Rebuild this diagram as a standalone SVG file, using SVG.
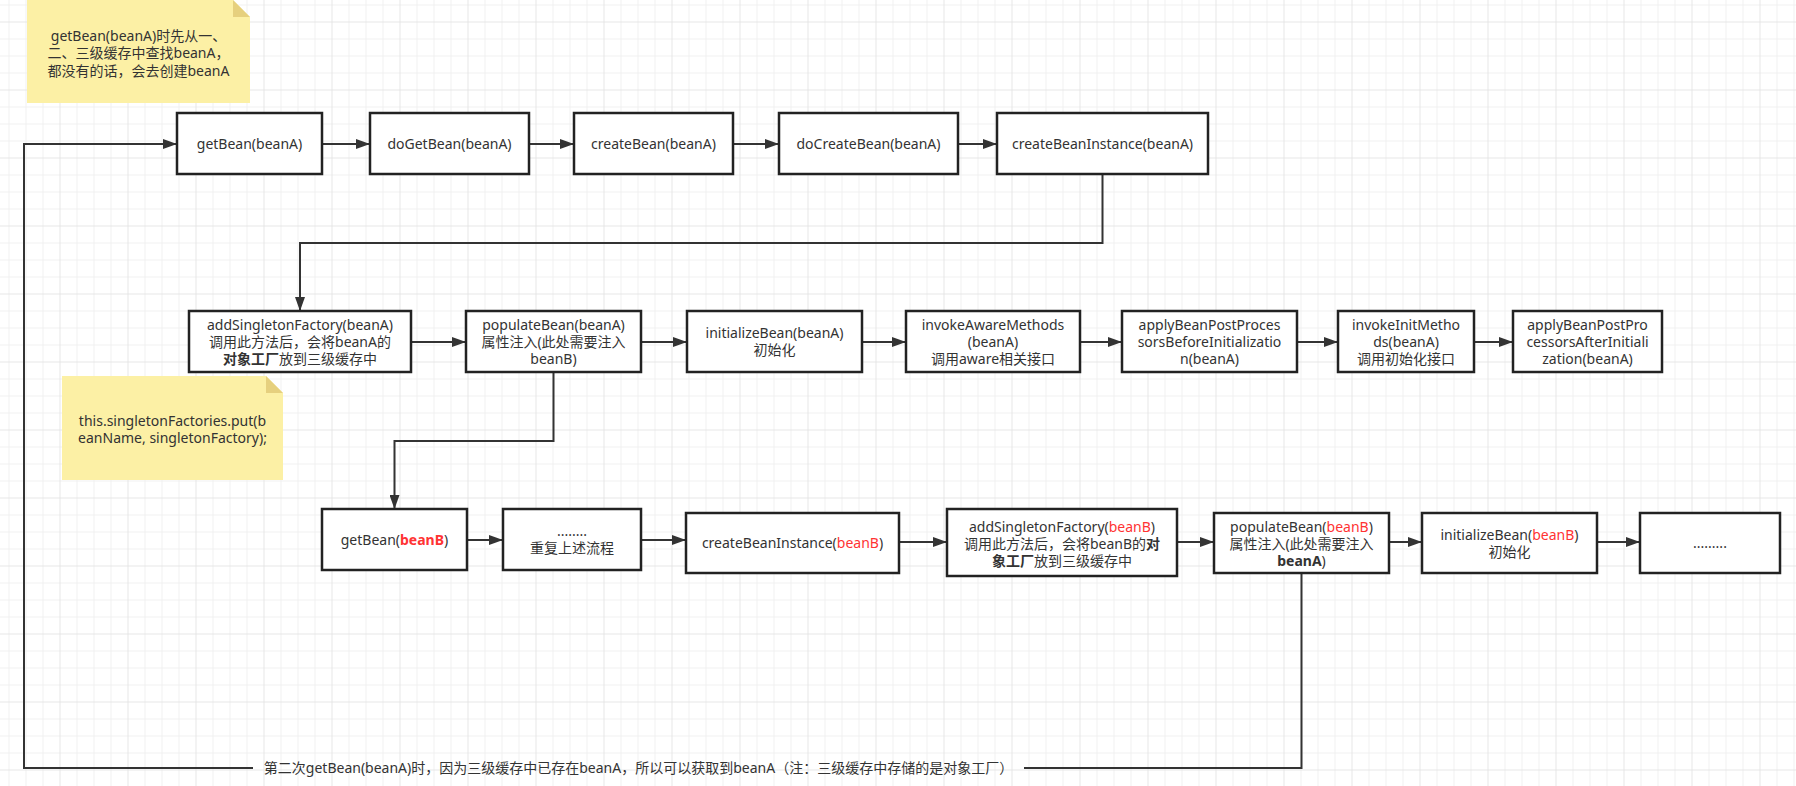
<svg xmlns="http://www.w3.org/2000/svg" width="1796" height="786" viewBox="0 0 1796 786">
<style>
.box{fill:#ffffff;stroke:#222222;stroke-width:2.5}
.t{font-family:"Noto Sans","Noto Sans CJK SC",sans-serif;font-size:14px;fill:#333333;text-anchor:middle}
.red{fill:#ff3333}
.b{font-weight:bold}
.conn{fill:none;stroke:#333333;stroke-width:2}
.note{fill:#fcf0a5}
.fold{fill:#e6d07e}
.gmin{stroke:#f0f0f0;stroke-width:1}
.gmaj{stroke:#e6e6e6;stroke-width:1}
</style>
<defs>
<pattern id="grid" patternUnits="userSpaceOnUse" x="59.5" y="21.5" width="68" height="68">
<path class="gmin" d="M17.5,0V68M34.5,0V68M51.5,0V68M0,17.5H68M0,34.5H68M0,51.5H68"/>
<path class="gmaj" d="M0.5,0V68M0,0.5H68"/>
</pattern>
<marker id="arr" markerUnits="userSpaceOnUse" markerWidth="14" markerHeight="10" refX="14" refY="5" orient="auto">
<path d="M0,0L14,5L0,10z" fill="#333333"/>
</marker>
</defs>
<rect width="1796" height="786" fill="#ffffff"/>
<rect width="1796" height="786" fill="url(#grid)"/>

<g id="note1">
<path class="note" d="M27,0H233L250,17V103H27Z"/>
<path class="fold" d="M233,0L250,17H233Z"/>
<text class="t"><tspan x="138.5" y="41">getBean(beanA)时先从一、</tspan><tspan x="138.5" y="58">二、三级缓存中查找beanA，</tspan><tspan x="138.5" y="75.5">都没有的话，会去创建beanA</tspan></text>
</g>

<g id="note2">
<path class="note" d="M62,376H266L283,393V480H62Z"/>
<path class="fold" d="M266,376L283,393H266Z"/>
<text class="t"><tspan x="172.5" y="426">this.singletonFactories.put(b</tspan><tspan x="172.5" y="443">eanName, singletonFactory);</tspan></text>
</g>

<g id="connectors">
<path class="conn" marker-end="url(#arr)" d="M322,144H370"/>
<path class="conn" marker-end="url(#arr)" d="M529,144H574"/>
<path class="conn" marker-end="url(#arr)" d="M733,144H779"/>
<path class="conn" marker-end="url(#arr)" d="M958,144H997"/>
<path class="conn" marker-end="url(#arr)" d="M1102.5,174V243H300V311"/>
<path class="conn" marker-end="url(#arr)" d="M411,342H466"/>
<path class="conn" marker-end="url(#arr)" d="M641,342H687"/>
<path class="conn" marker-end="url(#arr)" d="M862,342H906"/>
<path class="conn" marker-end="url(#arr)" d="M1080,342H1122"/>
<path class="conn" marker-end="url(#arr)" d="M1297,342H1338"/>
<path class="conn" marker-end="url(#arr)" d="M1474,342H1513"/>
<path class="conn" marker-end="url(#arr)" d="M553.5,372V441H394.5V509"/>
<path class="conn" marker-end="url(#arr)" d="M467,540H503"/>
<path class="conn" marker-end="url(#arr)" d="M641,540H686"/>
<path class="conn" marker-end="url(#arr)" d="M899,542H947"/>
<path class="conn" marker-end="url(#arr)" d="M1177,542H1214"/>
<path class="conn" marker-end="url(#arr)" d="M1389,542H1422"/>
<path class="conn" marker-end="url(#arr)" d="M1597,542H1640"/>
<path class="conn" marker-end="url(#arr)" d="M1301.5,573V768H1024M253,768H24V144H177"/>
<text class="t" x="638.5" y="773">第二次getBean(beanA)时，因为三级缓存中已存在beanA，所以可以获取到beanA（注：三级缓存中存储的是对象工厂）</text>
</g>

<g id="n-getBeanA"><rect class="box" x="177" y="113" width="145" height="61"/><text class="t" x="249.5" y="149">getBean(beanA)</text></g>
<g id="n-doGetBeanA"><rect class="box" x="370" y="113" width="159" height="61"/><text class="t" x="449.5" y="149">doGetBean(beanA)</text></g>
<g id="n-createBeanA"><rect class="box" x="574" y="113" width="159" height="61"/><text class="t" x="653.5" y="149">createBean(beanA)</text></g>
<g id="n-doCreateBeanA"><rect class="box" x="779" y="113" width="179" height="61"/><text class="t" x="868.5" y="149">doCreateBean(beanA)</text></g>
<g id="n-createBeanInstanceA"><rect class="box" x="997" y="113" width="211" height="61"/><text class="t" x="1102.5" y="149">createBeanInstance(beanA)</text></g>

<g id="n-addSingletonFactoryA"><rect class="box" x="189" y="311" width="222" height="61"/>
<text class="t"><tspan x="300" y="329.5">addSingletonFactory(beanA)</tspan><tspan x="300" y="346.5">调用此方法后，会将beanA的</tspan><tspan x="300" y="363.5"><tspan class="b">对象工厂</tspan>放到三级缓存中</tspan></text></g>
<g id="n-populateBeanA"><rect class="box" x="466" y="311" width="175" height="61"/>
<text class="t"><tspan x="553.5" y="329.5">populateBean(beanA)</tspan><tspan x="553.5" y="346.5">属性注入(此处需要注入</tspan><tspan x="553.5" y="363.5">beanB)</tspan></text></g>
<g id="n-initializeBeanA"><rect class="box" x="687" y="311" width="175" height="61"/>
<text class="t"><tspan x="774.5" y="338">initializeBean(beanA)</tspan><tspan x="774.5" y="355">初始化</tspan></text></g>
<g id="n-invokeAwareMethods"><rect class="box" x="906" y="311" width="174" height="61"/>
<text class="t"><tspan x="993" y="329.5">invokeAwareMethods</tspan><tspan x="993" y="346.5">(beanA)</tspan><tspan x="993" y="363.5">调用aware相关接口</tspan></text></g>
<g id="n-applyBefore"><rect class="box" x="1122" y="311" width="175" height="61"/>
<text class="t"><tspan x="1209.5" y="329.5">applyBeanPostProces</tspan><tspan x="1209.5" y="346.5">sorsBeforeInitializatio</tspan><tspan x="1209.5" y="363.5">n(beanA)</tspan></text></g>
<g id="n-invokeInitMethods"><rect class="box" x="1338" y="311" width="136" height="61"/>
<text class="t"><tspan x="1406" y="329.5">invokeInitMetho</tspan><tspan x="1406" y="346.5">ds(beanA)</tspan><tspan x="1406" y="363.5">调用初始化接口</tspan></text></g>
<g id="n-applyAfter"><rect class="box" x="1513" y="311" width="149" height="61"/>
<text class="t"><tspan x="1587.5" y="329.5">applyBeanPostPro</tspan><tspan x="1587.5" y="346.5">cessorsAfterInitiali</tspan><tspan x="1587.5" y="363.5">zation(beanA)</tspan></text></g>

<g id="n-getBeanB"><rect class="box" x="322" y="509" width="145" height="61"/>
<text class="t" x="394.5" y="544.5">getBean(<tspan class="red b">beanB</tspan>)</text></g>
<g id="n-repeat"><rect class="box" x="503" y="509" width="138" height="61"/>
<text class="t"><tspan x="572" y="536">........</tspan><tspan x="572" y="553">重复上述流程</tspan></text></g>
<g id="n-createBeanInstanceB"><rect class="box" x="686" y="513" width="213" height="60"/>
<text class="t" x="792.5" y="547.5">createBeanInstance(<tspan class="red">beanB</tspan>)</text></g>
<g id="n-addSingletonFactoryB"><rect class="box" x="947" y="509" width="230" height="67"/>
<text class="t"><tspan x="1062" y="531.5">addSingletonFactory(<tspan class="red">beanB</tspan>)</tspan><tspan x="1062" y="548.5">调用此方法后，会将beanB的<tspan class="b">对</tspan></tspan><tspan x="1062" y="565.5"><tspan class="b">象工厂</tspan>放到三级缓存中</tspan></text></g>
<g id="n-populateBeanB"><rect class="box" x="1214" y="513" width="175" height="60"/>
<text class="t"><tspan x="1301.5" y="531.5">populateBean(<tspan class="red">beanB</tspan>)</tspan><tspan x="1301.5" y="548.5">属性注入(此处需要注入</tspan><tspan x="1301.5" y="565.5"><tspan class="b">beanA</tspan>)</tspan></text></g>
<g id="n-initializeBeanB"><rect class="box" x="1422" y="513" width="175" height="60"/>
<text class="t"><tspan x="1509.5" y="539.5">initializeBean(<tspan class="red">beanB</tspan>)</tspan><tspan x="1509.5" y="556.5">初始化</tspan></text></g>
<g id="n-more"><rect class="box" x="1640" y="513" width="140" height="60"/>
<text class="t" x="1710" y="548">.........</text></g>
</svg>
